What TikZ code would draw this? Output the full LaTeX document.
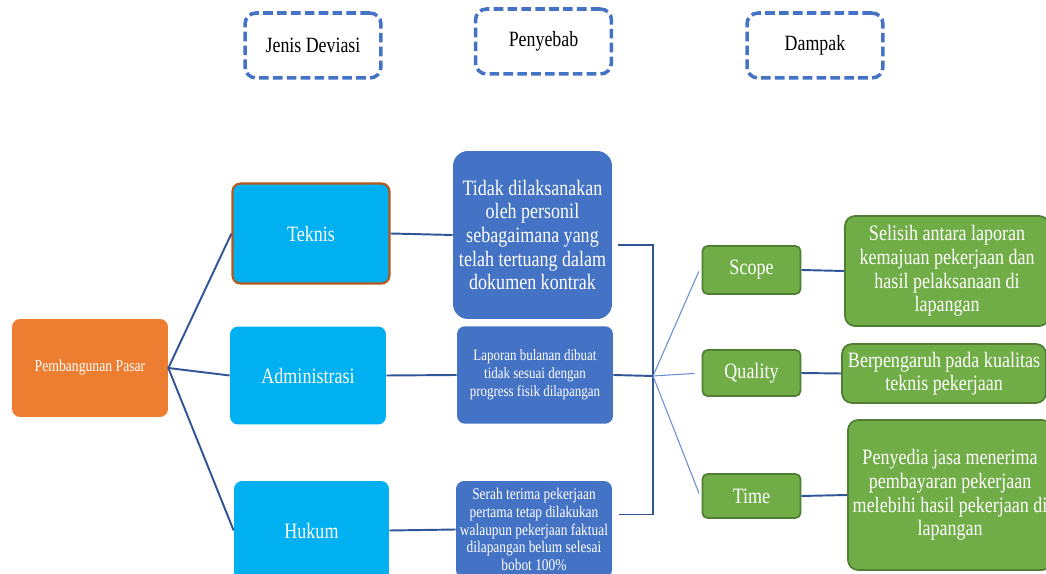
\documentclass[tikz,border=0pt]{standalone}
\usepackage{fontspec}
\setmainfont{Liberation Serif}[FakeStretch=0.82]
\usepackage{xcolor}
\usetikzlibrary{positioning}

\definecolor{hdrblue}{HTML}{4472C4}
\definecolor{cyanbox}{HTML}{00B0F0}
\definecolor{orangebox}{HTML}{ED7D31}
\definecolor{greenbox}{HTML}{70AD47}
\definecolor{greenline}{HTML}{507E32}
\definecolor{brownline}{HTML}{B4581C}
\definecolor{linkblue}{HTML}{2F5597}

\begin{document}
\begin{tikzpicture}
      [ x=0.02cm, y=-0.02cm,
        header/.style={draw=hdrblue, line width=2pt, dash pattern=on 5.5pt off 2.4pt,
                       rounded corners=0.22cm, minimum width=2.72cm, minimum height=1.3cm,
                       font=\fontsize{12.4}{14}\selectfont},
        box/.style={rounded corners=0.16cm, text=white, align=center, inner sep=1pt},
        jenis/.style={box, fill=cyanbox, minimum width=3.12cm, minimum height=1.96cm,
                      font=\fontsize{12.5}{14}\selectfont},
        sebab/.style={box, fill=hdrblue, minimum width=3.12cm, minimum height=1.95cm,
                      font=\fontsize{9}{10.2}\selectfont},
        aspek/.style={box, fill=greenbox, draw=greenline, line width=1pt,
                      rounded corners=0.1cm, minimum width=1.96cm,
                      font=\fontsize{12.5}{14}\selectfont},
        dampak/.style={box, fill=greenbox, draw=greenline, line width=1pt,
                       rounded corners=0.2cm, minimum width=4.08cm,
                       font=\fontsize{12.5}{13.4}\selectfont},
        link/.style={draw=linkblue, line width=1.1pt},
        fan/.style={draw=hdrblue!80, line width=0.6pt, shorten >=4pt}
      ]
      \useasboundingbox (0,0) rectangle (1046,574);

      % column headers
      \node[header]                       (hJenis)  at (313,45.5) {Jenis Deviasi};
      \node[header, minimum height=1.3cm] (hSebab)  at (543.5,41.5) {Penyebab};
      \node[header]                       (hDampak) at (815,45.5) {Dampak};

      % root and deviation types
      \node[box, fill=orangebox, minimum width=3.12cm, minimum height=1.96cm,
            font=\fontsize{9.5}{11}\selectfont] (Pasar) at (90,368) {Pembangunan Pasar};
      \node[jenis, draw=brownline, line width=1.2pt, minimum width=3.14cm, minimum height=2.0cm]
                                  (Teknis) at (311,233.5) {Teknis};
      \node[jenis]                (Admin)  at (308,375.5) {Administrasi};
      \node[jenis, minimum width=3.1cm, minimum height=1.98cm]
                                  (Hukum)  at (311.5,530.5) {Hukum};

      % causes
      \node[sebab, minimum width=3.18cm, minimum height=3.36cm, rounded corners=0.3cm,
            font=\fontsize{12.5}{13.4}\selectfont]
            (Tidak)   at (532.5,235) {Tidak dilaksanakan\\oleh personil\\sebagaimana yang\\telah tertuang dalam\\dokumen kontrak};
      \node[sebab] (Laporan) at (535,375) {Laporan bulanan dibuat\\tidak sesuai dengan\\progress fisik dilapangan};
      \node[sebab, minimum height=1.94cm, font=\fontsize{9.3}{10.1}\selectfont]
            (Serah)   at (534,529.5) {Serah terima pekerjaan\\pertama tetap dilakukan\\walaupun pekerjaan faktual\\dilapangan belum selesai\\bobot 100\%};

      % aspects
      \node[aspek, minimum height=0.96cm]  (Scope)   at (751.5,270) {Scope};
      \node[aspek, minimum height=0.92cm]  (Quality) at (751.5,373) {Quality};
      \node[aspek, minimum height=0.88cm]  (Time)    at (751.5,496) {Time};

      % impacts
      \node[dampak, minimum height=2.2cm]  (Selisih) at (947,271)
            {Selisih antara laporan\\kemajuan pekerjaan dan\\hasil pelaksanaan di\\lapangan};
      \node[dampak, minimum height=1.18cm] (Pengaruh) at (944,373.5)
            {Berpengaruh pada kualitas\\teknis pekerjaan};
      \node[dampak, minimum height=3.0cm]  (Penyedia) at (950,495)
            {Penyedia jasa menerima\\pembayaran pekerjaan\\melebihi hasil pekerjaan di\\lapangan};

      \coordinate (jn) at (653,376);

      \path[link] (Pasar.east)  edge (Teknis.west)
                                edge (Admin.west)
                                edge (Hukum.west)
                  (Teknis.east) edge (Tidak.west)
                  (Admin.east)  edge (Laporan.west)
                  (Hukum.east)  edge (Serah.west)
                  (Laporan.east) edge (jn);
      \draw[link] ([xshift=3pt,yshift=-0.2cm]Tidak.east) -| (jn)
                  |- ([xshift=4pt,yshift=0.3cm]Serah.east);
      \path[fan]  (jn) edge ([yshift=0.1cm]Scope.west)
                       edge (Quality.west)
                       edge ([yshift=-0.08cm]Time.west);
      \path[link] (Scope.east)   edge (Selisih.west)
                  (Quality.east) edge (Pengaruh.west)
                  (Time.east)    edge (Penyedia.west);
    \end{tikzpicture}
\end{document}
